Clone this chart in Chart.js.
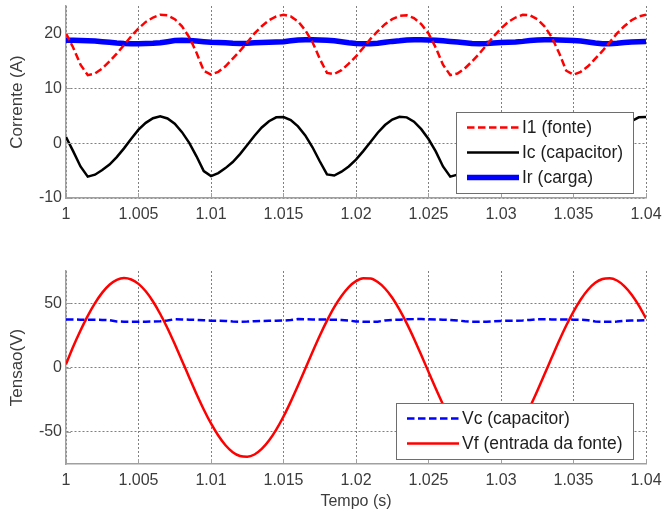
<!DOCTYPE html>
<html>
<head>
<meta charset="utf-8">
<script src="https://cdn.jsdelivr.net/npm/chart.js@4.4.0/dist/chart.umd.min.js"></script>
<style>
    html, body { margin: 0; padding: 0; background: #fff; }
    #wrap { position: relative; width: 665px; height: 512px; }
    .panel { position: absolute; left: 0; }
    #painelCorrente { top: 0; }
    #painelTensao { top: 250px; }
</style>
</head>
<body>
<div id="wrap">
    <div class="panel" id="painelCorrente"><canvas id="correnteChart" width="665" height="250"></canvas></div>
    <div class="panel" id="painelTensao"><canvas id="tensaoChart" width="665" height="262"></canvas></div>
</div>
<script>
// Tempo de simulação (s), passo de 0,5 ms
const tempo = [
    1, 1.0005, 1.001, 1.0015, 1.002, 1.0025, 1.003, 1.0035, 1.004, 1.0045,
    1.005, 1.0055, 1.006, 1.0065, 1.007, 1.0075, 1.008, 1.0085, 1.009, 1.0095,
    1.01, 1.0105, 1.011, 1.0115, 1.012, 1.0125, 1.013, 1.0135, 1.014, 1.0145,
    1.015, 1.0155, 1.016, 1.0165, 1.017, 1.0175, 1.018, 1.0185, 1.019, 1.0195,
    1.02, 1.0205, 1.021, 1.0215, 1.022, 1.0225, 1.023, 1.0235, 1.024, 1.0245,
    1.025, 1.0255, 1.026, 1.0265, 1.027, 1.0275, 1.028, 1.0285, 1.029, 1.0295,
    1.03, 1.0305, 1.031, 1.0315, 1.032, 1.0325, 1.033, 1.0335, 1.034, 1.0345,
    1.035, 1.0355, 1.036, 1.0365, 1.037, 1.0375, 1.038, 1.0385, 1.039, 1.0395,
    1.04
];

// Correntes (A)
const i1Fonte = [
    20.0, 17.4, 14.3, 12.4, 12.7, 13.6, 14.9, 16.3, 17.9, 19.5,
    20.9, 22.1, 22.9, 23.4, 23.3, 22.6, 21.3, 19.3, 16.5, 13.2,
    12.5, 13.0, 14.0, 15.4, 16.8, 18.4, 20.0, 21.3, 22.4, 23.1,
    23.4, 23.1, 22.2, 20.6, 18.4, 15.4, 12.8, 12.6, 13.3, 14.5,
    15.8, 17.4, 19.0, 20.4, 21.7, 22.6, 23.2, 23.3, 22.8, 21.7,
    20.0, 17.4, 14.3, 12.4, 12.7, 13.6, 14.9, 16.3, 17.9, 19.5,
    20.9, 22.1, 22.9, 23.4, 23.3, 22.6, 21.3, 19.3, 16.5, 13.2,
    12.5, 13.0, 14.0, 15.4, 16.8, 18.4, 20.0, 21.3, 22.4, 23.1,
    23.4
];

const icCapacitor = [
    1.1, -1.5, -4.25, -6.1, -5.75, -4.9, -3.9, -2.55, -0.95, 0.8,
    2.45, 3.7, 4.55, 4.9, 4.5, 3.55, 2.0, 0.05, -2.4, -5.1,
    -6.0, -5.45, -4.55, -3.45, -2.0, -0.35, 1.35, 2.85, 4.0, 4.7,
    4.75, 4.2, 3.05, 1.4, -0.75, -3.3, -5.7, -5.9, -5.2, -4.25,
    -3.0, -1.45, 0.2, 1.9, 3.3, 4.3, 4.8, 4.7, 3.9, 2.55,
    0.75, -1.5, -4.25, -6.1, -5.75, -4.9, -3.9, -2.55, -0.95, 0.8,
    2.45, 3.7, 4.55, 4.9, 4.5, 3.55, 2.0, 0.05, -2.4, -5.1,
    -6.0, -5.45, -4.55, -3.45, -2.0, -0.35, 1.35, 2.85, 4.0, 4.7,
    4.75
];

const irCarga = [
    18.75, 18.75, 18.7, 18.65, 18.6, 18.5, 18.4, 18.25, 18.15, 18.1,
    18.1, 18.15, 18.2, 18.3, 18.5, 18.7, 18.75, 18.7, 18.6, 18.5,
    18.4, 18.35, 18.3, 18.2, 18.15, 18.2, 18.3, 18.35, 18.4, 18.45,
    18.5, 18.65, 18.8, 18.85, 18.85, 18.8, 18.75, 18.65, 18.5, 18.3,
    18.15, 18.1, 18.1, 18.2, 18.4, 18.55, 18.65, 18.8, 18.85, 18.85,
    18.8, 18.75, 18.65, 18.55, 18.45, 18.3, 18.15, 18.1, 18.15, 18.25,
    18.35, 18.4, 18.45, 18.55, 18.7, 18.8, 18.85, 18.85, 18.8, 18.75,
    18.7, 18.6, 18.45, 18.25, 18.1, 18.1, 18.2, 18.35, 18.45, 18.5,
    18.55
];

// Tensões (V)
const vcCapacitor = [
    37.3, 37.3, 37.2, 37.2, 37.1, 37.0, 36.8, 35.8, 35.6, 35.5,
    35.6, 35.6, 35.7, 35.9, 36.5, 37.6, 37.4, 37.2, 37.0, 36.7,
    36.4, 36.3, 36.2, 35.8, 35.6, 35.7, 36.0, 36.2, 36.3, 36.4,
    36.5, 36.9, 37.6, 37.5, 37.4, 37.3, 37.2, 37.1, 36.9, 36.5,
    35.8, 35.5, 35.5, 35.6, 36.6, 37.0, 37.2, 37.5, 37.6, 37.6,
    37.5, 37.3, 37.2, 37.0, 36.6, 35.9, 35.5, 35.5, 35.6, 35.9,
    36.2, 36.3, 36.4, 36.6, 37.0, 37.6, 37.5, 37.4, 37.3, 37.3,
    37.2, 37.1, 36.8, 35.8, 35.5, 35.5, 35.7, 36.3, 36.6, 36.6,
    36.7
];

const vfFonte = [
    2.5, 16.3, 28.7, 40.1, 50.0, 58.2, 64.3, 68.1, 69.5, 68.4,
    65.0, 59.2, 51.3, 41.6, 30.5, 18.2, 5.3, -7.7, -20.6, -32.6,
    -43.5, -52.9, -60.4, -65.8, -68.8, -69.4, -67.6, -63.3, -56.8, -48.3,
    -38.1, -26.5, -14.0, -1.0, 12.1, 24.7, 36.4, 46.9, 55.6, 62.5,
    67.1, 69.3, 69.1, 66.4, 61.4, 54.2, 45.0, 34.3, 22.4, 9.7,
    -3.4, -16.3, -28.7, -40.1, -50.0, -58.2, -64.3, -68.1, -69.5, -68.4,
    -65.0, -59.2, -51.3, -41.6, -30.5, -18.2, -5.3, 7.7, 20.6, 32.6,
    43.5, 52.9, 60.4, 65.8, 68.8, 69.4, 67.6, 63.3, 56.8, 48.3,
    38.1
];

// Marcas dos eixos
const xTicks = [1, 1.005, 1.01, 1.015, 1.02, 1.025, 1.03, 1.035, 1.04];
const xTickLabels = ['1', '1.005', '1.01', '1.015', '1.02', '1.025', '1.03', '1.035', '1.04'];
const correnteTicks = [-10, 0, 10, 20];
const tensaoTicks = [-50, 0, 50];

const FONTE = '"Liberation Sans", Arial, Helvetica, sans-serif';
const COR_TEXTO = '#3c3c3c';
const COR_EIXO = '#a0a0a0';

Chart.defaults.font.family = FONTE;
Chart.defaults.color = COR_TEXTO;

function pares(serie) {
    return serie.map((v, i) => ({ x: tempo[i], y: v }));
}

// Marcas curtas para dentro da área do gráfico
const marcasInternas = {
    id: 'marcasInternas',
    afterDatasetsDraw(chart) {
        const { ctx, chartArea: area, scales: { x, y } } = chart;
        ctx.save();
        ctx.strokeStyle = COR_EIXO;
        ctx.lineWidth = 1;
        ctx.beginPath();
        x.ticks.forEach(t => {
            const px = Math.round(x.getPixelForValue(t.value)) + 0.5;
            ctx.moveTo(px, area.bottom);
            ctx.lineTo(px, area.bottom - 5);
        });
        y.ticks.forEach(t => {
            const py = Math.round(y.getPixelForValue(t.value)) + 0.5;
            ctx.moveTo(area.left, py);
            ctx.lineTo(area.left + 5, py);
        });
        ctx.stroke();
        ctx.restore();
    }
};

// Legenda com fundo branco no canto inferior direito
const legendaInterna = {
    id: 'legendaInterna',
    afterDatasetsDraw(chart) {
        const { ctx, chartArea: area } = chart;
        const itens = chart.data.datasets;
        ctx.save();
        ctx.font = '17.5px ' + FONTE;
        const textoMax = Math.max(...itens.map(d => ctx.measureText(d.label).width));
        const largura = Math.round(67 + textoMax + 9);
        const altura = 31 + (itens.length - 1) * 25;
        const x0 = Math.round(area.right - 13 - largura);
        const y0 = Math.round(area.bottom - 5 - altura);

        ctx.fillStyle = '#fff';
        ctx.fillRect(x0, y0, largura, altura);
        ctx.strokeStyle = '#6e6e6e';
        ctx.lineWidth = 1;
        ctx.strokeRect(x0 + 0.5, y0 + 0.5, largura, altura);

        itens.forEach((d, i) => {
            const yLinha = y0 + 15.5 + i * 25;
            ctx.beginPath();
            ctx.setLineDash(d.borderDash || []);
            ctx.strokeStyle = d.borderColor;
            ctx.lineWidth = d.borderWidth;
            ctx.moveTo(x0 + 11, yLinha);
            ctx.lineTo(x0 + 63, yLinha);
            ctx.stroke();
            ctx.setLineDash([]);
            ctx.fillStyle = '#1e1e1e';
            ctx.textBaseline = 'middle';
            ctx.fillText(d.label, x0 + 66, yLinha + 1);
        });
        ctx.restore();
    }
};

function opcoes(yMin, yMax, yTicks, yTitulo, xTitulo, padTop, alturaX) {
    return {
        responsive: false,
        animation: false,
        layout: { padding: { top: padTop, right: 19, left: 0, bottom: 0 } },
        elements: { point: { radius: 0 }, line: { tension: 0 } },
        plugins: { legend: { display: false }, tooltip: { enabled: false } },
        scales: {
            x: {
                type: 'linear',
                min: 1,
                max: 1.04,
                afterBuildTicks: scale => { scale.ticks = xTicks.map(v => ({ value: v })); },
                afterFit: scale => {
                    scale.height = alturaX;
                    scale.paddingLeft = 0;
                    scale.paddingRight = 0;
                },
                ticks: {
                    padding: 7,
                    maxRotation: 0,
                    font: { size: 16 },
                    color: COR_TEXTO,
                    callback: (v, i) => xTickLabels[i]
                },
                grid: { color: '#808080', lineWidth: 1, drawTicks: false },
                border: { display: true, color: COR_EIXO, width: 1.5, dash: [2, 2] },
                title: {
                    display: !!xTitulo,
                    text: xTitulo,
                    font: { size: 16 },
                    color: COR_TEXTO,
                    padding: { top: 0, bottom: 1 }
                }
            },
            y: {
                min: yMin,
                max: yMax,
                afterBuildTicks: scale => { scale.ticks = yTicks.map(v => ({ value: v })); },
                afterFit: scale => {
                    scale.width = 66;
                    scale.paddingTop = 0;
                    scale.paddingBottom = 0;
                },
                ticks: {
                    padding: 4,
                    font: { size: 16 },
                    color: COR_TEXTO
                },
                grid: { color: '#808080', lineWidth: 1, drawTicks: false },
                border: { display: true, color: COR_EIXO, width: 1.5, dash: [2, 2] },
                title: {
                    display: true,
                    text: yTitulo,
                    font: { size: 17 },
                    color: COR_TEXTO,
                    padding: { top: 7, bottom: 0 }
                }
            }
        }
    };
}

// Correntes: fonte, capacitor e carga
new Chart(document.getElementById('correnteChart'), {
    type: 'line',
    data: {
        datasets: [
            {
                label: 'I1 (fonte)',
                data: pares(i1Fonte),
                borderColor: '#ff0000',
                borderWidth: 2.5,
                borderDash: [7.5, 3.5],
                order: 0
            },
            {
                label: 'Ic (capacitor)',
                data: pares(icCapacitor),
                borderColor: '#000000',
                borderWidth: 2.5,
                order: 1
            },
            {
                label: 'Ir (carga)',
                data: pares(irCarga),
                borderColor: '#0000ff',
                borderWidth: 5.5,
                order: 2
            }
        ]
    },
    options: opcoes(-10, 25, correnteTicks, 'Corrente (A)', '', 6, 52),
    plugins: [marcasInternas, legendaInterna]
});

// Tensões: capacitor e entrada da fonte
new Chart(document.getElementById('tensaoChart'), {
    type: 'line',
    data: {
        datasets: [
            {
                label: 'Vc (capacitor)',
                data: pares(vcCapacitor),
                borderColor: '#0000ff',
                borderWidth: 2.5,
                borderDash: [7.5, 3.5],
                order: 1
            },
            {
                label: 'Vf (entrada da fonte)',
                data: pares(vfFonte),
                borderColor: '#ff0000',
                borderWidth: 2.5,
                cubicInterpolationMode: 'monotone',
                order: 0
            }
        ]
    },
    options: opcoes(-75, 75, tensaoTicks, 'Tensao(V)', 'Tempo (s)', 21, 48),
    plugins: [marcasInternas, legendaInterna]
});
</script>
</body>
</html>
